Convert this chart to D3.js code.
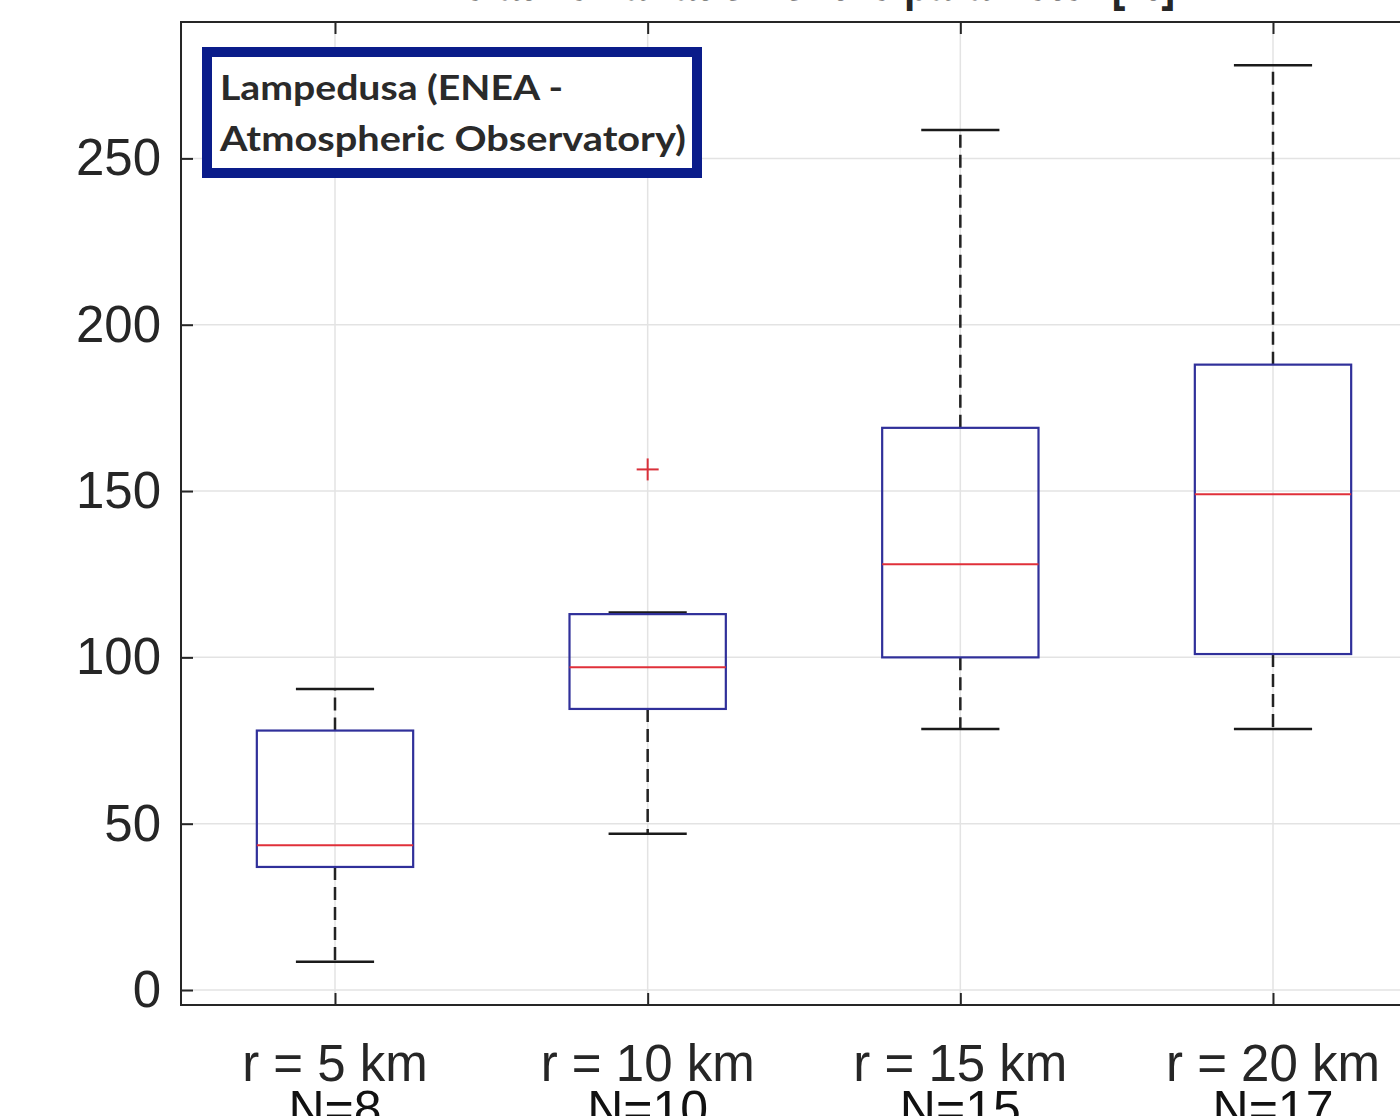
<!DOCTYPE html>
<html>
<head>
<meta charset="utf-8">
<script src="https://cdn.jsdelivr.net/npm/d3@7"></script>
<style>
  body { margin: 0; background: #fff; }
  svg { display: block; }
</style>
</head>
<body>
<div id="chart"></div>
<script>
// box plot data
var categories = ["r = 5 km", "r = 10 km", "r = 15 km", "r = 20 km"];
var counts = ["N=8", "N=10", "N=15", "N=17"];
var whiskerLow = [8.5, 47, 78.5, 78.5];
var q1 = [37, 84.5, 100, 101];
var medians = [43.5, 97, 128, 149];
var q3 = [78, 113, 169, 188];
var whiskerHigh = [90.5, 113.5, 258.5, 278];
var outliers = [[], [156.5], [], []];
var yTicks = [0, 50, 100, 150, 200, 250];

function boxChart(){
    var width = 1400, height = 1116;

    var svg = d3.select("#chart")
        .append("svg")
            .attr("width", width)
            .attr("height", height);

    // scales (axes box runs past the right edge of the picture)
    var x = d3.scaleLinear().domain([1, 4]).range([335, 1273]);
    var y = d3.scaleLinear().domain([-4.5, 291]).range([1005, 22]);
    var xMin = 0.5075, xMax = 4.5;
    var step = x(2) - x(1);

    var data = categories.map(function(c, i){
        return { cat: c, n: counts[i], pos: i + 1, lo: whiskerLow[i], q1: q1[i],
                 med: medians[i], q3: q3[i], hi: whiskerHigh[i], out: outliers[i] };
    });

    // title (mostly cut off at the top of the picture)
    svg.append("text")
        .attr("x", 434)
        .attr("y", 0)
        .attr("font-family", "Liberation Sans, Arial, sans-serif")
        .attr("font-size", "51px")
        .attr("font-weight", "bold")
        .attr("fill", "#262626")
        .attr("textLength", 741)
        .attr("lengthAdjust", "spacingAndGlyphs")
        .text("Relative variation of the parameter [%]");

    // grid
    var grid = svg.append("g").attr("class", "grid");
    grid.selectAll("line.h").data(yTicks).enter().append("line")
        .attr("class", "h")
        .attr("x1", x(xMin)).attr("x2", x(xMax))
        .attr("y1", function(d){ return y(d); })
        .attr("y2", function(d){ return y(d); })
        .attr("stroke", "#e3e3e3").attr("stroke-width", 1.5);
    grid.selectAll("line.v").data(data).enter().append("line")
        .attr("class", "v")
        .attr("x1", function(d){ return x(d.pos); })
        .attr("x2", function(d){ return x(d.pos); })
        .attr("y1", y(291)).attr("y2", y(-4.5))
        .attr("stroke", "#e3e3e3").attr("stroke-width", 1.5);

    // axes, ticks inside like matlab
    var yAxisGroup = svg.append("g").attr("class", "y axis")
        .attr("transform", "translate(" + x(xMin) + ",0)");
    yAxisGroup.call(d3.axisLeft(y).tickValues(yTicks).tickSizeInner(-12).tickSizeOuter(0).tickPadding(20));

    var xAxisGroup = svg.append("g").attr("class", "x axis")
        .attr("transform", "translate(0," + y(-4.5) + ")");
    xAxisGroup.call(d3.axisBottom(x).tickValues([1, 2, 3, 4]).tickSizeInner(-12).tickSizeOuter(0).tickFormat(""));

    var topAxisGroup = svg.append("g").attr("class", "x axis top")
        .attr("transform", "translate(0," + y(291) + ")");
    topAxisGroup.call(d3.axisTop(x).tickValues([1, 2, 3, 4]).tickSizeInner(-12).tickSizeOuter(0).tickFormat(""));

    svg.selectAll(".axis path").remove();
    svg.selectAll(".axis line").attr("stroke", "#262626").attr("stroke-width", 2);
    yAxisGroup.selectAll("text")
        .attr("font-family", "Liberation Sans, Arial, sans-serif")
        .attr("font-size", "51px")
        .attr("fill", "#262626");

    // frame
    svg.append("rect")
        .attr("x", x(xMin)).attr("y", y(291))
        .attr("width", x(xMax) - x(xMin))
        .attr("height", y(-4.5) - y(291))
        .attr("fill", "none")
        .attr("stroke", "#262626")
        .attr("stroke-width", 2);

    // category labels, two lines
    var labels = svg.append("g").attr("class", "xlabels");
    labels.selectAll("text.cat").data(data).enter().append("text")
        .attr("class", "cat")
        .attr("x", function(d){ return x(d.pos); })
        .attr("y", 1081)
        .attr("text-anchor", "middle")
        .attr("font-family", "Liberation Sans, Arial, sans-serif")
        .attr("font-size", "51px")
        .attr("fill", "#262626")
        .text(function(d){ return d.cat; });
    labels.selectAll("text.n").data(data).enter().append("text")
        .attr("class", "n")
        .attr("x", function(d){ return x(d.pos); })
        .attr("y", 1126)
        .attr("text-anchor", "middle")
        .attr("font-family", "Liberation Sans, Arial, sans-serif")
        .attr("font-size", "50px")
        .attr("fill", "#111")
        .text(function(d){ return d.n; });

    // boxes
    var boxes = svg.append("g").attr("class", "boxes")
        .selectAll("g").data(data).enter().append("g");

    // dashed whiskers
    boxes.append("line")
        .attr("x1", function(d){ return x(d.pos); })
        .attr("x2", function(d){ return x(d.pos); })
        .attr("y1", function(d){ return y(d.q3); })
        .attr("y2", function(d){ return y(d.hi); })
        .attr("stroke", "#222").attr("stroke-width", 2.5)
        .attr("stroke-dasharray", "13,7");
    boxes.append("line")
        .attr("x1", function(d){ return x(d.pos); })
        .attr("x2", function(d){ return x(d.pos); })
        .attr("y1", function(d){ return y(d.q1); })
        .attr("y2", function(d){ return y(d.lo); })
        .attr("stroke", "#222").attr("stroke-width", 2.5)
        .attr("stroke-dasharray", "13,7");

    // caps
    ["hi", "lo"].forEach(function(k){
        boxes.append("line")
            .attr("x1", function(d){ return x(d.pos - 0.125); })
            .attr("x2", function(d){ return x(d.pos + 0.125); })
            .attr("y1", function(d){ return y(d[k]); })
            .attr("y2", function(d){ return y(d[k]); })
            .attr("stroke", "#1a1a1a").attr("stroke-width", 2.5);
    });

    boxes.append("rect")
        .attr("x", function(d){ return x(d.pos - 0.25); })
        .attr("y", function(d){ return y(d.q3); })
        .attr("width", step * 0.5)
        .attr("height", function(d){ return y(d.q1) - y(d.q3); })
        .attr("fill", "none")
        .attr("stroke", "#30309a").attr("stroke-width", 2.2);

    boxes.append("line")
        .attr("x1", function(d){ return x(d.pos - 0.25); })
        .attr("x2", function(d){ return x(d.pos + 0.25); })
        .attr("y1", function(d){ return y(d.med); })
        .attr("y2", function(d){ return y(d.med); })
        .attr("stroke", "#e0303a").attr("stroke-width", 2);

    // outliers as red +
    var outs = [];
    data.forEach(function(d){ d.out.forEach(function(v){ outs.push({ pos: d.pos, v: v }); }); });
    var plus = svg.append("g").attr("class", "outliers").selectAll("g").data(outs).enter().append("g")
        .attr("transform", function(d){ return "translate(" + x(d.pos) + "," + y(d.v) + ")"; });
    plus.append("line").attr("x1", -11).attr("x2", 11).attr("y1", 0).attr("y2", 0)
        .attr("stroke", "#d9303a").attr("stroke-width", 2);
    plus.append("line").attr("x1", 0).attr("x2", 0).attr("y1", -11).attr("y2", 11)
        .attr("stroke", "#d9303a").attr("stroke-width", 2);

    // station label box
    var note = svg.append("g").attr("class", "note");
    note.append("rect")
        .attr("x", 207).attr("y", 52)
        .attr("width", 490).attr("height", 121)
        .attr("fill", "#fff")
        .attr("stroke", "#0a1c8a")
        .attr("stroke-width", 10);
    note.append("text")
        .attr("x", 220).attr("y", 100)
        .attr("font-family", "Lato, sans-serif")
        .attr("font-weight", "bold")
        .attr("font-size", "34px")
        .attr("fill", "#2a2a2a")
        .attr("textLength", 343)
        .attr("lengthAdjust", "spacingAndGlyphs")
        .text("Lampedusa (ENEA -");
    note.append("text")
        .attr("x", 220).attr("y", 151)
        .attr("font-family", "Lato, sans-serif")
        .attr("font-weight", "bold")
        .attr("font-size", "34px")
        .attr("fill", "#2a2a2a")
        .attr("textLength", 466)
        .attr("lengthAdjust", "spacingAndGlyphs")
        .text("Atmospheric Observatory)");
}

boxChart();
</script>
</body>
</html>
